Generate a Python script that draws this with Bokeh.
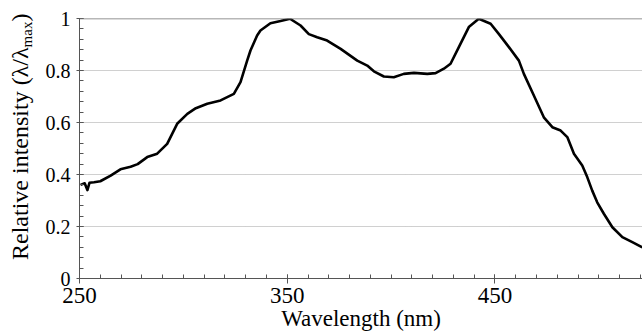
from bokeh.plotting import figure
from bokeh.models import FixedTicker, Span, Range1d, Div, InlineStyleSheet
from bokeh.layouts import row
from bokeh.embed import file_html
from bokeh.resources import INLINE

# ---- data ----
wavelength = [250.5, 252.5, 253.8, 254.8, 257.0, 260.0, 265.0, 269.7, 274.6, 278.0,
              282.6, 287.4, 292.2, 297.0, 301.9, 306.0, 311.5, 317.9, 324.3, 327.5,
              330.7, 332.3, 335.5, 337.1, 341.9, 346.8, 351.3, 356.4, 360.4, 364.4,
              369.2, 375.7, 383.7, 388.5, 391.7, 396.5, 401.3, 406.1, 411.0, 417.4,
              421.4, 425.4, 428.6, 432.6, 437.4, 442.2, 447.9, 451.9, 456.7, 461.5,
              463.9, 468.7, 473.5, 477.6, 481.6, 484.8, 488.0, 492.0, 494.4, 496.8,
              499.2, 502.4, 506.5, 511.3, 516.1, 520.9]
intensity = [0.360, 0.366, 0.340, 0.368, 0.370, 0.374, 0.396, 0.420, 0.430, 0.440,
             0.467, 0.480, 0.518, 0.595, 0.633, 0.655, 0.672, 0.685, 0.710, 0.755,
             0.838, 0.877, 0.935, 0.954, 0.982, 0.990, 0.999, 0.973, 0.940, 0.928,
             0.915, 0.883, 0.838, 0.819, 0.797, 0.777, 0.774, 0.787, 0.791, 0.787,
             0.790, 0.807, 0.826, 0.890, 0.967, 0.999, 0.980, 0.940, 0.890, 0.838,
             0.787, 0.704, 0.620, 0.582, 0.569, 0.544, 0.480, 0.435, 0.390, 0.338,
             0.293, 0.249, 0.197, 0.159, 0.140, 0.120]

x_major = [250, 350, 450]
x_minor = list(range(250, 521, 10))
y_major = [0, 0.2, 0.4, 0.6, 0.8, 1.0]
y_minor = [round(i * 0.04, 2) for i in range(26)]
y_labels = {0: "0", 0.2: "0.2", 0.4: "0.4", 0.6: "0.6", 0.8: "0.8", 1.0: "1"}

x_title = "Wavelength (nm)"
y_title_main = "Relative intensity (λ/λ"
y_title_sub = "max"
y_title_end = ")"

FONT = "Liberation Serif"
H = 333
LEFT_W = 36

serif_css = InlineStyleSheet(css="""
svg text, text { font-family: 'Liberation Serif', 'Times New Roman', Times, serif !important; }
""")

# ---- y-axis title (rotated text with a real subscript) ----
title_html = (
    f'<div style="position:relative;width:{LEFT_W}px;height:{H}px;overflow:visible;">'
    f'<div style="position:absolute;left:8px;top:260px;transform:rotate(-90deg);'
    f'transform-origin:0 0;white-space:nowrap;font-family:\'Liberation Serif\',\'Times New Roman\',serif;'
    f'font-size:24px;line-height:24px;color:#000;">'
    f'{y_title_main}<span style="font-size:15px;position:relative;top:4px;">{y_title_sub}</span>{y_title_end}'
    f'</div></div>'
)
ytitle = Div(text=title_html, width=LEFT_W, height=H, margin=(0, 0, 0, 0))

# ---- main plot ----
p = figure(width=642 - LEFT_W, height=H, output_backend="svg", toolbar_location=None,
           x_range=Range1d(250, 521), y_range=Range1d(0, 1),
           min_border_left=79 - LEFT_W, min_border_right=0, min_border_top=18,
           min_border_bottom=0)
p.stylesheets = [serif_css]
p.outline_line_color = None
p.background_fill_color = "white"
p.border_fill_color = "white"

p.xgrid.visible = False
p.ygrid.ticker = FixedTicker(ticks=[0.2, 0.4, 0.6, 0.8])
p.ygrid.grid_line_color = "#a0a0a0"
p.ygrid.grid_line_dash = "1 1"
p.ygrid.grid_line_width = 1

p.add_layout(Span(location=1.0, dimension="width", line_color="#707070", line_width=1.3))

xa = p.xaxis[0]
xa.ticker = FixedTicker(ticks=x_major, minor_ticks=x_minor)
xa.axis_line_color = "#555555"
xa.major_tick_line_color = "#555555"
xa.minor_tick_line_color = "#555555"
xa.major_tick_in = 4
xa.major_tick_out = 5
xa.minor_tick_in = 4
xa.minor_tick_out = 0
xa.major_label_standoff = 4
xa.major_label_text_font = FONT
xa.major_label_text_font_size = "23px"
xa.major_label_text_color = "black"
xa.axis_label = x_title
xa.axis_label_text_font = FONT
xa.axis_label_text_font_size = "23px"
xa.axis_label_text_font_style = "normal"
xa.axis_label_text_color = "black"
xa.axis_label_standoff = 0

ya = p.yaxis[0]
ya.ticker = FixedTicker(ticks=y_major, minor_ticks=y_minor)
ya.major_label_overrides = y_labels
ya.axis_line_color = "#555555"
ya.major_tick_line_color = "#555555"
ya.minor_tick_line_color = "#555555"
ya.major_tick_in = 4
ya.major_tick_out = 3
ya.minor_tick_in = 4
ya.minor_tick_out = 0
ya.major_label_standoff = 6
ya.major_label_text_font = FONT
ya.major_label_text_font_size = "20px"
ya.major_label_text_color = "black"

p.line(wavelength, intensity, line_color="black", line_width=2.6, line_join="round")

layout = row(ytitle, p, spacing=0)
open("out.html", "w").write(file_html(layout, INLINE))
